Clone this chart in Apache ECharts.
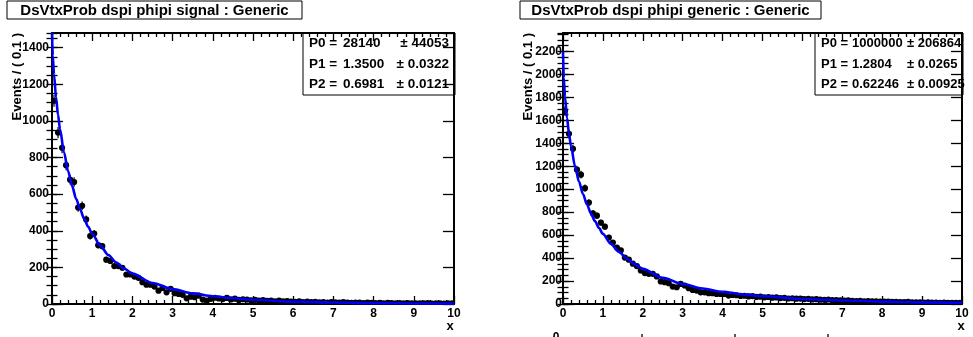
<!DOCTYPE html>
<html>
<head>
<meta charset="utf-8">
<script src="https://cdn.jsdelivr.net/npm/echarts@6/dist/echarts.min.js"></script>
<style>
  html, body { margin: 0; padding: 0; background: #fff; }
  #chart { width: 973px; height: 337px; }
</style>
</head>
<body>
<div id="chart"></div>
<script>
// Bin centres (bin width 0.1) shared by both histograms
const binCenters = [
  0.05, 0.15, 0.25, 0.35, 0.45, 0.55, 0.65, 0.75, 0.85, 0.95,
  1.05, 1.15, 1.25, 1.35, 1.45, 1.55, 1.65, 1.75, 1.85, 1.95,
  2.05, 2.15, 2.25, 2.35, 2.45, 2.55, 2.65, 2.75, 2.85, 2.95,
  3.05, 3.15, 3.25, 3.35, 3.45, 3.55, 3.65, 3.75, 3.85, 3.95,
  4.05, 4.15, 4.25, 4.35, 4.45, 4.55, 4.65, 4.75, 4.85, 4.95,
  5.05, 5.15, 5.25, 5.35, 5.45, 5.55, 5.65, 5.75, 5.85, 5.95,
  6.05, 6.15, 6.25, 6.35, 6.45, 6.55, 6.65, 6.75, 6.85, 6.95,
  7.05, 7.15, 7.25, 7.35, 7.45, 7.55, 7.65, 7.75, 7.85, 7.95,
  8.05, 8.15, 8.25, 8.35, 8.45, 8.55, 8.65, 8.75, 8.85, 8.95,
  9.05, 9.15, 9.25, 9.35, 9.45, 9.55, 9.65, 9.75, 9.85, 9.95
];

// Events per bin, signal sample
const signalCounts = [
  1110, 936, 853, 758, 679, 666, 527, 536, 462, 371,
  385, 321, 316, 242, 235, 207, 207, 198, 161, 161,
  150, 143, 119, 105, 105, 95, 73, 88, 64, 83,
  59, 55, 50, 31, 40, 37, 46, 24, 18, 28,
  34, 30, 27, 33, 25, 29, 22, 26, 24, 20,
  23, 18, 21, 17, 19, 15, 18, 14, 16, 13,
  12, 14, 11, 13, 10, 12, 9, 11, 8, 10,
  9, 7, 10, 8, 6, 8, 7, 5, 7, 6,
  5, 6, 4, 6, 5, 4, 5, 3, 5, 4,
  3, 4, 3, 5, 2, 4, 3, 2, 4, 3
];

// Events per bin, generic sample
const genericCounts = [
  1681, 1482, 1351, 1170, 1126, 1009, 883, 789, 769, 708,
  673, 579, 535, 491, 468, 404, 386, 351, 330, 292,
  269, 263, 263, 240, 196, 190, 181, 152, 146, 175,
  161, 137, 123, 117, 102, 102, 94, 94, 88, 88,
  88, 73, 79, 76, 70, 72, 66, 69, 62, 64,
  58, 61, 55, 57, 52, 54, 48, 50, 46, 47,
  43, 45, 40, 42, 38, 36, 39, 33, 35, 31,
  29, 31, 27, 26, 28, 24, 25, 22, 23, 21,
  20, 21, 18, 19, 17, 16, 18, 15, 14, 15,
  13, 14, 12, 13, 11, 12, 10, 11, 10, 9
];

// Fitted curves, sampled along x
const curveX = [0, 0.02, 0.05, 0.1, 0.15, 0.2, 0.3, 0.4, 0.5, 0.6, 0.7, 0.8, 0.9, 1.0,
  1.2, 1.4, 1.6, 1.8, 2.0, 2.5, 3.0, 3.5, 4.0, 4.5, 5, 6, 7, 8, 9, 10];
const signalCurve = [1480, 1355, 1253, 1129, 1033, 954, 827, 726, 644, 575, 517, 466, 422, 384,
  319, 268, 227, 193, 166, 115, 81, 58, 42, 31, 23, 13, 8, 4.6, 2.8, 1.8];
const genericCurve = [2200, 1967, 1804, 1621, 1485, 1375, 1201, 1067, 958, 867, 789, 722, 663, 611,
  524, 454, 396, 347, 306, 228, 174, 135, 106, 84, 67, 44, 30, 21, 14, 10];

// Panel titles and fit results
const titles = ['DsVtxProb dspi phipi signal : Generic', 'DsVtxProb dspi phipi generic : Generic'];
const paramNames = ['P0 =', 'P1 =', 'P2 ='];
const signalParams = ['28140', '1.3500', '0.6981'];
const signalErrors = ['44053', '0.0322', '0.0121'];
const genericParams = ['1000000', '1.2804', '0.62246'];
const genericErrors = ['206864', '0.0265', '0.00925'];

const yMax = [1480, 2360];
const xTickLabels = ['0', '1', '2', '3', '4', '5', '6', '7', '8', '9', '10'];
const yAxisTitle = 'Events / ( 0.1 )';
const xAxisTitle = 'x';

const FONT = '"Liberation Sans", Arial, Helvetica, sans-serif';
const binHalf = 0.05;

const grids = [
  { left: 52, top: 33, width: 402, height: 271 },
  { left: 563, top: 33, width: 399, height: 271 }
];

function makeXAxes(gridIndex) {
  const base = {
    type: 'value', gridIndex, min: 0, max: 10, interval: 1,
    axisLine: { show: true, onZero: false, lineStyle: { color: '#000', width: 2 } },
    axisTick: { show: true, inside: true, length: 8, lineStyle: { color: '#000', width: 1.3 } },
    minorTick: { show: true, splitNumber: 5, length: 4, lineStyle: { color: '#000', width: 1.3 } },
    splitLine: { show: false }, minorSplitLine: { show: false }
  };
  return [
    Object.assign({}, base, {
      position: 'bottom',
      axisLabel: {
        show: true, margin: 4, color: '#000', fontFamily: FONT, fontWeight: 'bold', fontSize: 12,
        formatter: v => xTickLabels[Math.round(v)] ?? ''
      }
    }),
    Object.assign({}, base, { position: 'top', axisLabel: { show: false } })
  ];
}

function makeYAxes(gridIndex, max) {
  const major = {
    type: 'value', gridIndex, min: 0, max, interval: 200,
    axisLine: { show: true, onZero: false, lineStyle: { color: '#000', width: 2 } },
    axisTick: { show: true, inside: true, length: 11, lineStyle: { color: '#000', width: 1.3 } },
    splitLine: { show: false }
  };
  const minor = {
    type: 'value', gridIndex, min: 0, max, interval: 50,
    axisLine: { show: false },
    axisTick: { show: true, inside: true, length: 5.5, lineStyle: { color: '#000', width: 1.3 } },
    axisLabel: { show: false },
    splitLine: { show: false }
  };
  return [
    Object.assign({}, major, {
      position: 'left',
      axisLabel: {
        show: true, margin: gridIndex === 0 ? 3 : 1, color: '#000', fontFamily: FONT,
        fontWeight: 'bold', fontSize: 12, showMaxLabel: false,
        formatter: v => (v % 200 === 0 ? String(v) : '')
      }
    }),
    Object.assign({}, minor, { position: 'left' }),
    Object.assign({}, major, { position: 'right', axisLabel: { show: false } }),
    Object.assign({}, minor, { position: 'right' })
  ];
}

function renderPoint(params, api) {
  const x = api.value(0), y = api.value(1), err = api.value(2);
  const c = api.coord([x, y]);
  const lo = api.coord([x, Math.max(y - err, 0)]);
  const hi = api.coord([x, y + err]);
  const l = api.coord([x - binHalf, y]);
  const r = api.coord([x + binHalf, y]);
  return {
    type: 'group',
    children: [
      { type: 'line', shape: { x1: c[0], y1: lo[1], x2: c[0], y2: hi[1] }, style: { stroke: '#000', lineWidth: 1.2 } },
      { type: 'line', shape: { x1: l[0], y1: c[1], x2: r[0], y2: c[1] }, style: { stroke: '#000', lineWidth: 1.2 } },
      { type: 'circle', shape: { cx: c[0], cy: c[1], r: 3.1 }, style: { fill: '#000' } }
    ]
  };
}

function pointsSeries(counts, xIdx, yIdx) {
  return {
    type: 'custom', xAxisIndex: xIdx, yAxisIndex: yIdx, clip: true, z: 3,
    renderItem: renderPoint,
    data: binCenters.map((x, i) => [x, counts[i], Math.sqrt(counts[i])])
  };
}

function curveSeries(values, xIdx, yIdx) {
  return {
    type: 'line', xAxisIndex: xIdx, yAxisIndex: yIdx, clip: true, z: 4,
    showSymbol: false, smooth: 0.3, smoothMonotone: 'x',
    lineStyle: { color: '#0000f5', width: 2.6 },
    data: curveX.map((x, i) => [x, values[i]])
  };
}

function titleBox(x, w, text) {
  return [
    { type: 'rect', shape: { x, y: 1, width: w, height: 18 }, style: { fill: '#fff', stroke: '#000', lineWidth: 1 }, z: 10 },
    { type: 'text', x: x + w / 2, y: 10.5, z: 11,
      style: { text, fill: '#000', font: 'bold 15px ' + FONT, align: 'center', verticalAlign: 'middle' } }
  ];
}

function statsBox(x, w, valueX, params, errors, errX, errAlign, fontPx) {
  const font = 'bold ' + fontPx + 'px ' + FONT;
  const els = [
    { type: 'rect', shape: { x, y: 33, width: w, height: 62 }, style: { fill: 'none', stroke: '#000', lineWidth: 1 }, z: 10 }
  ];
  const rows = [43.5, 64, 84.5];
  rows.forEach((ry, i) => {
    els.push({ type: 'text', x: x + 6, y: ry, z: 11,
      style: { text: paramNames[i], fill: '#000', font, align: 'left', verticalAlign: 'middle' } });
    els.push({ type: 'text', x: valueX, y: ry, z: 11,
      style: { text: params[i], fill: '#000', font, align: 'left', verticalAlign: 'middle' } });
    els.push({ type: 'text', x: errX, y: ry, z: 11,
      style: { text: '\u00b1 ' + errors[i], fill: '#000', font, align: errAlign, verticalAlign: 'middle' } });
  });
  return els;
}

function axisTitles(yTitleX, xTitleX) {
  return [
    { type: 'text', x: yTitleX, y: 33, rotation: Math.PI / 2, z: 11,
      style: { text: yAxisTitle, fill: '#000', font: 'bold 13px ' + FONT, align: 'right', verticalAlign: 'middle' } },
    { type: 'text', x: xTitleX, y: 326, z: 11,
      style: { text: xAxisTitle, fill: '#000', font: 'bold 13px ' + FONT, align: 'center', verticalAlign: 'middle' } }
  ];
}

// Fragments of a neighbouring axis peeking in at the bottom edge
const edgeMarks = [
  { type: 'text', x: 556, y: 332, z: 11,
    style: { text: '0', fill: '#000', font: 'bold 12px ' + FONT, align: 'center', verticalAlign: 'top' } },
  { type: 'line', shape: { x1: 642, y1: 334, x2: 642, y2: 337 }, style: { stroke: '#000', lineWidth: 1.3 }, z: 11 },
  { type: 'line', shape: { x1: 735, y1: 334, x2: 735, y2: 337 }, style: { stroke: '#000', lineWidth: 1.3 }, z: 11 },
  { type: 'line', shape: { x1: 828, y1: 334, x2: 828, y2: 337 }, style: { stroke: '#000', lineWidth: 1.3 }, z: 11 }
];

const option = {
  animation: false,
  backgroundColor: '#fff',
  grid: grids,
  xAxis: [...makeXAxes(0), ...makeXAxes(1)],
  yAxis: [...makeYAxes(0, yMax[0]), ...makeYAxes(1, yMax[1])],
  series: [
    pointsSeries(signalCounts, 0, 0),
    curveSeries(signalCurve, 0, 0),
    pointsSeries(genericCounts, 2, 4),
    curveSeries(genericCurve, 2, 4)
  ],
  graphic: [
    ...titleBox(7, 295, titles[0]),
    ...titleBox(520, 301, titles[1]),
    ...statsBox(303, 152, 343, signalParams, signalErrors, 449, 'right', 13.5),
    ...statsBox(815, 148, 852, genericParams, genericErrors, 907, 'left', 13),
    ...axisTitles(17, 450),
    ...axisTitles(528, 961),
    ...edgeMarks
  ]
};

const chart = echarts.init(document.getElementById('chart'), null, { renderer: 'canvas' });
chart.setOption(option);
</script>
</body>
</html>
